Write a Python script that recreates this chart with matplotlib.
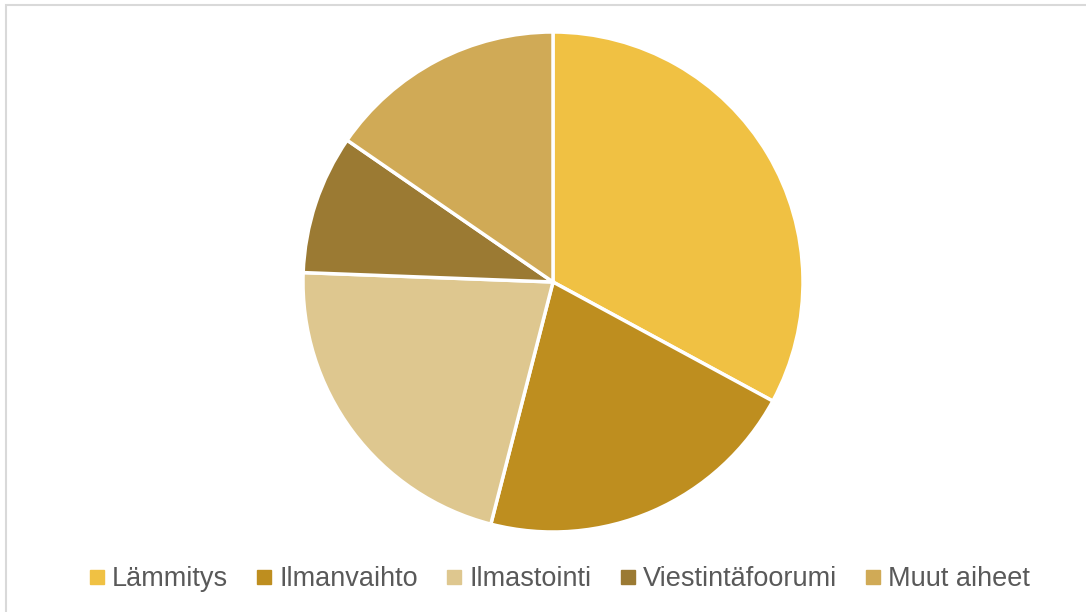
import matplotlib
matplotlib.use("Agg")
import matplotlib.pyplot as plt
from matplotlib.lines import Line2D
from matplotlib.patches import Rectangle

categories = ["Lämmitys", "Ilmanvaihto", "Ilmastointi", "Viestintäfoorumi", "Muut aiheet"]
values = [32.9, 21.1, 21.6, 9.0, 15.4]
colors = ["#F0C143", "#BE8E1F", "#DEC78F", "#9B7A33", "#D0AA56"]

W, H = 1086, 612
fig = plt.figure(figsize=(W / 100, H / 100), dpi=100)
fig.patch.set_facecolor("white")

# outer frame
fig.patches.append(Rectangle((6 / W, -0.01), 1.05, (H - 5) / H + 0.01, transform=fig.transFigure,
                             fill=False, edgecolor="#D9D9D9", linewidth=1.5))

cx, cy, r = 553, 282, 250
ax = fig.add_axes([(cx - r) / W, (H - cy - r) / H, 2 * r / W, 2 * r / H])
ax.pie(values, colors=colors, startangle=90, counterclock=False, radius=1,
       wedgeprops=dict(edgecolor="white", linewidth=2.5))
ax.set_xlim(-1.0, 1.0)
ax.set_ylim(-1.0, 1.0)
ax.set_aspect("equal")
ax.axis("off")

handles = [Line2D([0], [0], marker="s", linestyle="none", markersize=9.5,
                  markerfacecolor=c, markeredgecolor=c) for c in colors]
fig.legend(handles, categories, loc="center", bbox_to_anchor=(560 / W, 1 - 579 / H),
           ncol=5, frameon=False, handlelength=0.5, handletextpad=0.3, columnspacing=1.1,
           prop=dict(family="Liberation Sans", size=19.5), labelcolor="#595959")

fig.savefig("out.png", dpi=100)
